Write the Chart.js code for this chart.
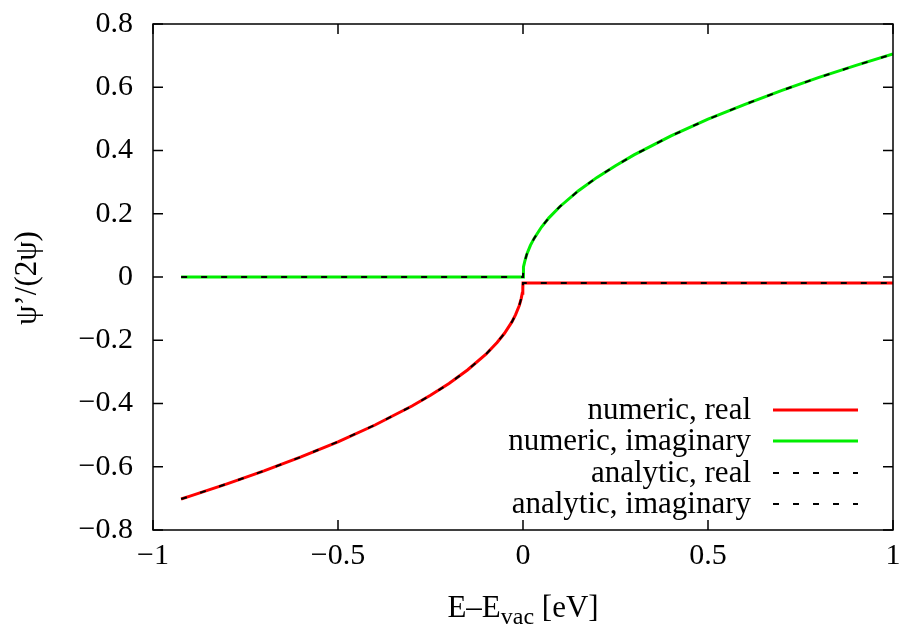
<!DOCTYPE html>
<html>
<head>
<meta charset="utf-8">
<script src="https://cdn.jsdelivr.net/npm/chart.js@4.4.1/dist/chart.umd.min.js"></script>
<style>
  html, body { margin: 0; padding: 0; background: #ffffff; }
  #wrap { width: 904px; height: 629px; position: relative; }
</style>
</head>
<body>
<div id="wrap"><canvas id="c" width="904" height="629"></canvas></div>
<script>
// ---- Data ----
const energies = [-0.924, -0.9, -0.8, -0.7, -0.6, -0.5, -0.4, -0.3, -0.25, -0.2, -0.15, -0.1, -0.07, -0.05, -0.03, -0.02, -0.01, -0.005, -0.002, -0.0005, 0,
                  0.0005, 0.002, 0.005, 0.01, 0.02, 0.03, 0.05, 0.07, 0.1, 0.15, 0.2, 0.25, 0.3, 0.4, 0.5, 0.6, 0.7, 0.8, 0.9, 1.0];
const numericReal = [-0.702, -0.693, -0.654, -0.613, -0.569, -0.521, -0.468, -0.408, -0.374, -0.337, -0.294, -0.244, -0.207, -0.178, -0.142, -0.119, -0.090, -0.069, -0.051, -0.035, -0.019,
                     -0.019, -0.019, -0.019, -0.019, -0.019, -0.019, -0.019, -0.019, -0.019, -0.019, -0.019, -0.019, -0.019, -0.019, -0.019, -0.019, -0.019, -0.019, -0.019, -0.019];
const numericImag = [0, 0, 0, 0, 0, 0, 0, 0, 0, 0, 0, 0, 0, 0, 0, 0, 0, 0, 0, 0, 0,
                     0.016, 0.032, 0.050, 0.071, 0.100, 0.122, 0.158, 0.187, 0.223, 0.273, 0.315, 0.352, 0.386, 0.446, 0.499, 0.546, 0.590, 0.631, 0.669, 0.705];
const analyticReal = numericReal;   // analytic curves coincide with numeric ones in the picture
const analyticImag = numericImag;
const seriesLabels = ['numeric, real', 'numeric, imaginary', 'analytic, real', 'analytic, imaginary'];
const xTicks = [-1, -0.5, 0, 0.5, 1];
const yTicks = [-0.8, -0.6, -0.4, -0.2, 0, 0.2, 0.4, 0.6, 0.8];

const FONT = "'Liberation Serif', 'DejaVu Serif', serif";
const FS = 30;
const FL = 31;
const toPts = (ys) => energies.map((e, i) => ({ x: e, y: ys[i] }));
const fmt = (v) => {
  const r = Math.round(v * 10) / 10;
  if (r === 0) return '0';
  const s = String(Math.abs(r));
  return r < 0 ? '\u2212' + s : s;
};

const frame = {
  id: 'frame',
  afterDraw(chart) {
    const { ctx, chartArea: a, scales } = chart;
    const xs = scales.x, ys = scales.y;
    ctx.save();
    // border
    ctx.strokeStyle = '#000';
    ctx.lineWidth = 1.5;
    ctx.strokeRect(a.left, a.top, a.right - a.left, a.bottom - a.top);
    // inward ticks on all sides
    const tl = 10;
    ctx.beginPath();
    xTicks.forEach(v => {
      const px = xs.getPixelForValue(v);
      ctx.moveTo(px, a.bottom); ctx.lineTo(px, a.bottom - tl);
      ctx.moveTo(px, a.top); ctx.lineTo(px, a.top + tl);
    });
    yTicks.forEach(v => {
      const py = ys.getPixelForValue(v);
      ctx.moveTo(a.left, py); ctx.lineTo(a.left + tl, py);
      ctx.moveTo(a.right, py); ctx.lineTo(a.right - tl, py);
    });
    ctx.stroke();

    // legend
    const rowY = [410, 441, 473, 504];
    const textRight = 751, s0 = 773, s1 = 858;
    ctx.font = FL + 'px ' + FONT;
    ctx.fillStyle = '#000';
    ctx.textAlign = 'right';
    ctx.textBaseline = 'middle';
    chart.data.datasets.forEach((ds, i) => {
      const y = rowY[i];
      ctx.fillText(ds.label, textRight, y + 1);
      ctx.beginPath();
      ctx.strokeStyle = ds.borderColor;
      ctx.lineWidth = ds.borderWidth;
      ctx.setLineDash(ds.borderDash || []);
      ctx.moveTo(s0, y); ctx.lineTo(s1, y);
      ctx.stroke();
      ctx.setLineDash([]);
    });

    // x axis title with subscript
    const base = 617;
    const cx = (a.left + a.right) / 2;
    const p1 = 'E\u2013E', sub = 'vac', p2 = ' [eV]';
    ctx.textBaseline = 'alphabetic';
    ctx.textAlign = 'left';
    ctx.font = FL + 'px ' + FONT;
    const w1 = ctx.measureText(p1).width, w3 = ctx.measureText(p2).width;
    ctx.font = '24px ' + FONT;
    const w2 = ctx.measureText(sub).width;
    let x0 = cx - (w1 + w2 + w3) / 2;
    ctx.font = FL + 'px ' + FONT;
    ctx.fillText(p1, x0, base);
    ctx.font = '24px ' + FONT;
    ctx.fillText(sub, x0 + w1, base + 7);
    ctx.font = FL + 'px ' + FONT;
    ctx.fillText(p2, x0 + w1 + w2, base);

    // y axis title
    ctx.translate(28, 278);
    ctx.rotate(-Math.PI / 2);
    ctx.textAlign = 'center';
    ctx.textBaseline = 'middle';
    ctx.font = FL + 'px ' + FONT;
    ctx.fillText('\u03C8\u2019/(2\u03C8)', 0, 0);
    ctx.restore();
  }
};

new Chart(document.getElementById('c'), {
  type: 'line',
  data: {
    datasets: [
      { label: seriesLabels[0], data: toPts(numericReal), borderColor: '#ff0000', borderWidth: 3, pointRadius: 0, tension: 0, fill: false, order: 2 },
      { label: seriesLabels[1], data: toPts(numericImag), borderColor: '#00ee00', borderWidth: 3, pointRadius: 0, tension: 0, fill: false, order: 2 },
      { label: seriesLabels[2], data: toPts(analyticReal), borderColor: '#000000', borderWidth: 2, borderDash: [6, 14], pointRadius: 0, tension: 0, fill: false, order: 1 },
      { label: seriesLabels[3], data: toPts(analyticImag), borderColor: '#000000', borderWidth: 2, borderDash: [6, 14], pointRadius: 0, tension: 0, fill: false, order: 1 }
    ]
  },
  options: {
    responsive: false,
    animation: false,
    events: [],
    layout: { padding: { top: 24, right: 11, left: 0, bottom: 0 } },
    plugins: { legend: { display: false }, tooltip: { enabled: false } },
    scales: {
      x: {
        type: 'linear', min: -1, max: 1,
        afterFit: (s) => { s.height = 99; s.paddingLeft = 0; s.paddingRight = 0; },
        afterBuildTicks: (s) => { s.ticks = xTicks.map(v => ({ value: v })); },
        grid: { display: false, drawTicks: false },
        border: { display: false },
        ticks: { color: '#000', font: { family: FONT, size: FS }, padding: 8, maxRotation: 0, autoSkip: false, callback: (v) => fmt(v) }
      },
      y: {
        type: 'linear', min: -0.8, max: 0.8,
        afterFit: (s) => { s.width = 153; s.paddingTop = 0; s.paddingBottom = 0; },
        afterBuildTicks: (s) => { s.ticks = yTicks.map(v => ({ value: v })); },
        grid: { display: false, drawTicks: false },
        border: { display: false },
        ticks: { color: '#000', font: { family: FONT, size: FS }, padding: 20, autoSkip: false, callback: (v) => fmt(v) }
      }
    }
  },
  plugins: [frame]
});
</script>
</body>
</html>
